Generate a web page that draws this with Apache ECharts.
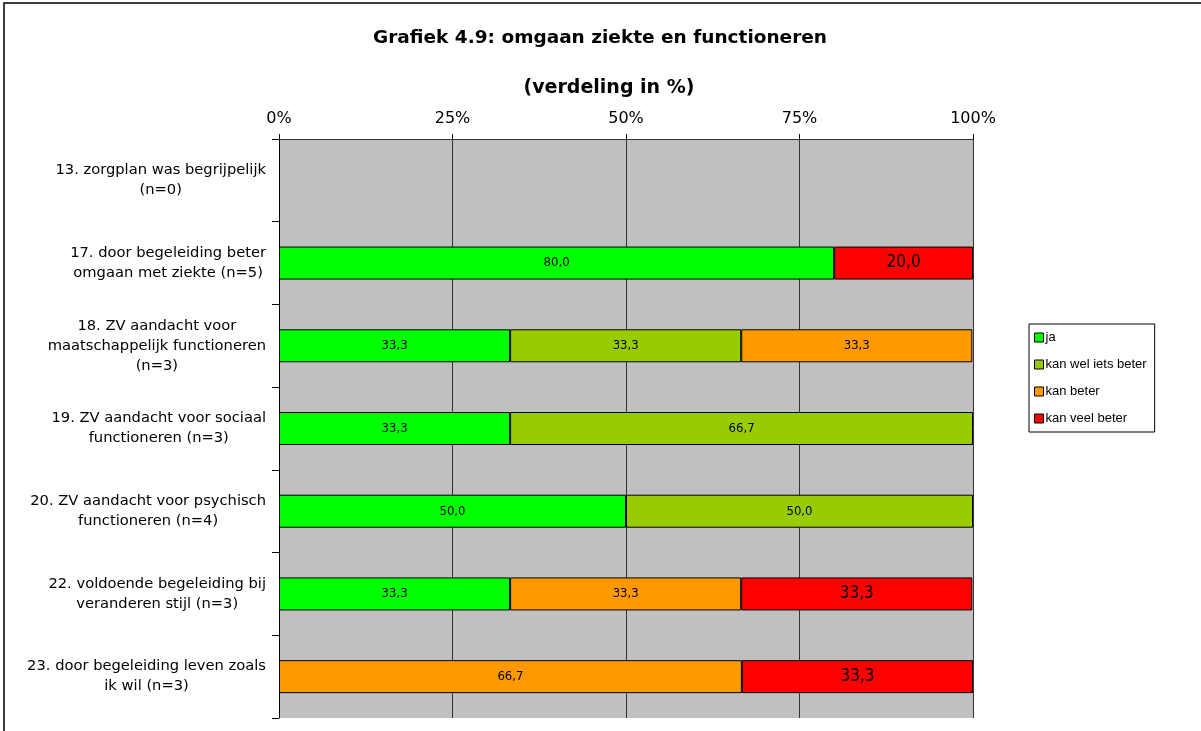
<!DOCTYPE html>
<html>
<head>
    <meta http-equiv="Content-Type" content="text/html; charset=UTF-8" />
    <title>Grafiek 4.9</title>
    <script src="https://cdn.jsdelivr.net/npm/echarts@6/dist/echarts.min.js"></script>
    <style>
        html, body { margin: 0; padding: 0; background: #fff; }
    </style>
</head>
<body>
<div id="main" style="width: 1201px;height:731px;"></div>
<script type="text/javascript">
    // categorieen (van boven naar beneden)
    var categories = [
        '13. zorgplan was begrijpelijk\n(n=0)',
        '17. door begeleiding beter\nomgaan met ziekte (n=5)',
        '18. ZV aandacht voor\nmaatschappelijk functioneren\n(n=3)',
        '19. ZV aandacht voor sociaal\nfunctioneren (n=3)',
        '20. ZV aandacht voor psychisch\nfunctioneren (n=4)',
        '22. voldoende begeleiding bij\nveranderen stijl (n=3)',
        '23. door begeleiding leven zoals\nik wil (n=3)'
    ];
    var seriesNames = ['ja', 'kan wel iets beter', 'kan beter', 'kan veel beter'];
    var seriesColors = ['#00ff00', '#99cc00', '#ff9900', '#ff0000'];

    // verdeling in %
    var ja            = [null, 80.0, 33.3, 33.3, 50.0, 33.3, null];
    var kanWelIets    = [null, null, 33.3, 66.7, 50.0, null, null];
    var kanBeter      = [null, null, 33.3, null, null, 33.3, 66.7];
    var kanVeelBeter  = [null, 20.0, null, null, null, 33.3, 33.3];

    var xTicks = [0, 25, 50, 75, 100];

    var seriesData = [ja, kanWelIets, kanBeter, kanVeelBeter];

    var narrow = '"Liberation Sans Narrow", "DejaVu Sans Condensed", "Liberation Sans", sans-serif';

    var myChart = echarts.init(document.getElementById('main'));

    function fmt(p) {
        return p.value.toFixed(1).replace('.', ',');
    }

    var series = seriesNames.map(function (name, i) {
        return {
            name: name,
            type: 'bar',
            stack: 'totaal',
            barWidth: 33,
            data: seriesData[i],
            itemStyle: {
                color: seriesColors[i],
                borderColor: '#000',
                borderWidth: 1
            },
            label: {
                show: true,
                position: 'inside',
                formatter: fmt,
                color: '#000',
                fontFamily: narrow,
                fontSize: i === 3 ? 17 : 13
            }
        };
    });

    var option = {
        animation: false,
        backgroundColor: '#fff',
        title: [{
            text: 'Grafiek 4.9: omgaan ziekte en functioneren',
            left: 595,
            top: 24,
            textAlign: 'center',
            textStyle: { fontFamily: 'DejaVu Sans', fontSize: 18.5, fontWeight: 'bold', color: '#000' }
        }, {
            text: '(verdeling in %)',
            left: 604,
            top: 74,
            textAlign: 'center',
            textStyle: { fontFamily: 'DejaVu Sans', fontSize: 19, fontWeight: 'bold', color: '#000' }
        }],
        legend: {
            orient: 'vertical',
            left: 1029,
            top: 324,
            width: 124,
            height: 103,
            padding: [7, 8, 7, 5],
            itemGap: 14,
            itemWidth: 9,
            itemHeight: 9,
            icon: 'rect',
            borderColor: '#000',
            borderWidth: 1,
            backgroundColor: '#fff',
            data: seriesNames,
            textStyle: { fontFamily: 'Liberation Sans', fontSize: 13, color: '#000', padding: [0, 0, 0, -3] },
            itemStyle: { borderColor: '#000', borderWidth: 1 }
        },
        grid: {
            left: 279,
            right: 228,
            top: 139,
            bottom: 13,
            show: true,
            backgroundColor: '#c0c0c0',
            borderWidth: 0
        },
        xAxis: {
            type: 'value',
            position: 'top',
            min: 0,
            max: 100,
            interval: 25,
            axisLine: { show: true, lineStyle: { color: '#333', width: 1 } },
            axisTick: { show: true, length: 5, lineStyle: { color: '#000' } },
            splitLine: { show: true, lineStyle: { color: '#333', width: 1 } },
            axisLabel: {
                margin: 12,
                fontFamily: 'DejaVu Sans',
                fontSize: 16,
                color: '#000',
                formatter: function (v) {
                    return xTicks.indexOf(v) >= 0 ? v + '%' : '';
                }
            }
        },
        yAxis: {
            type: 'category',
            inverse: true,
            data: categories,
            axisLine: { show: true, lineStyle: { color: '#000', width: 1 } },
            axisTick: { show: true, length: 7, lineStyle: { color: '#000' } },
            axisLabel: {
                margin: 13,
                align: 'right',
                lineHeight: 20,
                fontFamily: 'DejaVu Sans',
                fontSize: 14.7,
                color: '#000',
                formatter: function (v) {
                    return v.split('\n').map(function (l) { return '{c|' + l + '}'; }).join('\n');
                },
                rich: {
                    c: { align: 'center', fontFamily: 'DejaVu Sans', fontSize: 14.7, color: '#000', lineHeight: 20 }
                }
            }
        },
        graphic: [{
            type: 'rect',
            silent: true,
            z: 100,
            shape: { x: 4, y: 3, width: 1400, height: 900 },
            style: { fill: null, stroke: '#000', lineWidth: 1.5 }
        }],
        series: series
    };

    myChart.setOption(option);
</script>
</body>
</html>
